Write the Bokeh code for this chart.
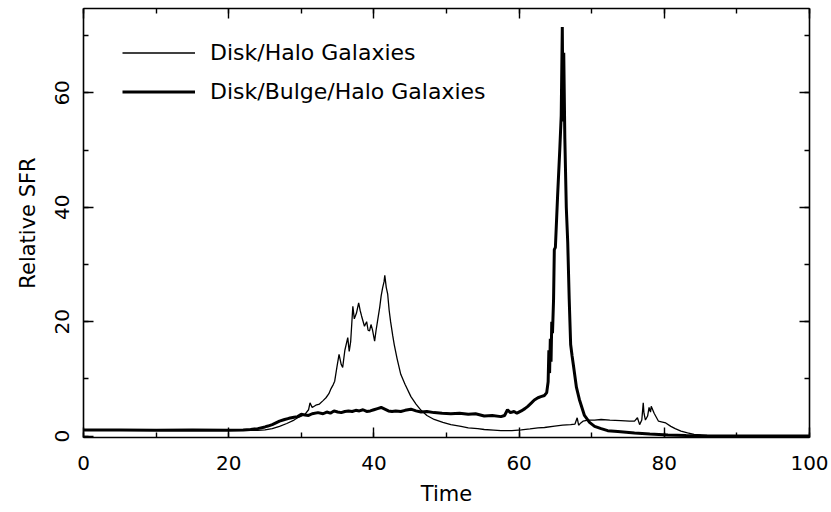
from bokeh.plotting import figure
from bokeh.models import Range1d, LinearAxis, SingleIntervalTicker, Legend, LegendItem, ColumnDataSource
from bokeh.embed import file_html
from bokeh.resources import INLINE

# ---- data ----
time_dh = [0, 5, 10, 15, 20, 22, 23, 24, 25, 26, 27, 28, 29, 29.5, 30, 30.5, 31, 31.2, 31.5, 32,
           32.5, 33, 33.4, 33.8, 34.1, 34.4, 34.6, 34.9, 35.2, 35.5, 35.7, 36, 36.4, 36.6, 36.8,
           37.1, 37.3, 37.6, 37.9, 38.1, 38.3, 38.7, 39, 39.2, 39.4, 39.6, 39.8, 40.1, 40.3, 40.5,
           40.8, 41.0, 41.2, 41.4, 41.5, 41.7, 41.9, 42.1, 42.3, 42.6, 42.8, 43.2, 43.7, 44.3, 45.1,
           45.8, 46.5, 47.3, 48.3, 49.5, 50.6, 52, 53, 54.3, 55.2, 56.5, 57.5, 59, 60.3, 61.5, 62.6,
           63.5, 64.9, 66, 67.1, 67.7, 68.0, 68.2, 68.5, 68.8, 69.5, 70.4, 71.3, 72.5, 74, 75.2,
           75.9, 76.3, 76.6, 76.9, 77.1, 77.2, 77.4, 77.7, 77.9, 78.1, 78.2, 78.4, 78.6, 78.9, 79.2,
           79.6, 80.2, 80.9, 81.5, 82.3, 83.2, 84.1, 85.9, 88, 92, 100]
sfr_dh = [1.0, 1.0, 1.0, 1.0, 1.0, 1.0, 1.0, 1.0, 1.1, 1.3, 1.7, 2.2, 2.8, 3.2, 3.5, 3.8, 4.6, 5.8,
          5.0, 5.4, 5.6, 6.2, 6.7, 7.4, 8.3, 9.0, 9.6, 12.0, 14.3, 12.5, 12.0, 15.0, 17.2, 14.8,
          16.5, 22.7, 20.5, 21.5, 23.3, 22.0, 21.0, 19.2, 20.0, 18.5, 18.4, 19.5, 18.6, 16.6, 18.5,
          20.1, 22.5, 24.5, 25.9, 27.0, 28.1, 26.0, 24.8, 22.0, 20.0, 17.5, 16.0, 13.5, 10.8, 9.0,
          6.9, 5.6, 4.5, 3.6, 2.9, 2.4, 2.0, 1.7, 1.45, 1.3, 1.15, 1.05, 0.95, 0.95, 1.1, 1.25,
          1.45, 1.5, 1.75, 1.9, 2.0, 2.1, 3.2, 1.9, 2.3, 2.6, 2.8, 2.8, 2.9, 2.8, 2.7, 2.6, 2.6,
          3.2, 2.0, 2.8, 5.8, 4.0, 2.8, 3.5, 5.0, 4.2, 5.2, 4.6, 4.0, 3.3, 2.6, 2.5, 2.3, 1.7, 1.3,
          0.87, 0.55, 0.3, 0.12, 0.05, 0.02, 0.0]

time_dbh = [0, 5, 10, 15, 20, 22, 23, 24, 25, 25.4, 26, 26.5, 27, 27.7, 28.3, 29, 29.5, 30, 30.5,
            31, 31.5, 32.3, 33, 33.5, 34, 34.5, 35, 35.5, 36, 36.5, 37, 37.5, 38, 38.5, 39, 39.5,
            40, 40.5, 41, 41.5, 42, 42.5, 43, 43.7, 44.3, 45.1, 45.8, 46.5, 47.3, 48.3, 49.4, 50.6,
            51.8, 53, 54, 55.2, 56.3, 57.5, 58, 58.4, 58.8, 59.3, 59.7, 60.3, 60.8, 61.2, 61.7,
            62.1, 62.6, 63, 63.5, 63.8, 64.0, 64.1, 64.2, 64.3, 64.4, 64.5, 64.6, 64.75, 64.85,
            65.0, 65.3, 65.6, 65.8, 65.95, 66.05, 66.15, 66.3, 66.5, 66.7, 66.9, 67.1, 67.3, 67.5,
            67.9, 68.3, 69, 69.7, 70.4, 71.3, 72.2, 73.6, 75.9, 78, 80.5, 83, 85, 90, 100]
sfr_dbh = [1.05, 1.05, 1.0, 1.05, 1.0, 1.05, 1.15, 1.3, 1.6, 1.75, 2.0, 2.3, 2.6, 2.9, 3.1, 3.3,
           3.4, 3.8, 3.7, 3.6, 3.9, 4.1, 3.9, 4.2, 4.0, 4.4, 4.2, 4.1, 4.3, 4.4, 4.3, 4.5, 4.4,
           4.6, 4.3, 4.4, 4.6, 4.8, 5.0, 4.7, 4.4, 4.3, 4.4, 4.3, 4.5, 4.7, 4.4, 4.2, 4.3, 4.1,
           4.0, 3.9, 4.0, 3.8, 3.9, 3.5, 3.6, 3.4, 3.6, 4.6, 4.1, 4.3, 4.0, 4.4, 4.8, 5.2, 5.8,
           6.3, 6.7, 6.9, 7.1, 7.6, 9.5, 15.0, 11.0, 17.0, 13.0, 20.0, 18.0, 24.0, 32.6, 33.0,
           41.9, 50.0, 56.0, 71.5, 55.0, 67.0, 52.0, 40.0, 33.8, 24.0, 16.0, 14.0, 12.2, 8.5, 6.4,
           3.6, 2.4, 1.7, 1.3, 0.95, 0.8, 0.55, 0.35, 0.17, 0.08, 0.04, 0.02, 0.0]

x_label = "Time"
y_label = "Relative SFR"
labels = ["Disk/Halo Galaxies", "Disk/Bulge/Halo Galaxies"]

FONT = "DejaVu Sans"

p = figure(width=831, height=512, output_backend="svg", toolbar_location=None,
           x_range=Range1d(0, 100), y_range=Range1d(-0.25, 74.75),
           x_axis_location=None, y_axis_location=None,
           min_border_left=83, min_border_right=22, min_border_top=8, min_border_bottom=75)
p.outline_line_color = None
p.background_fill_color = "white"
p.border_fill_color = "white"
p.grid.visible = False
p.xgrid.visible = False
p.ygrid.visible = False


def make_axis(show_labels):
    ax = LinearAxis(ticker=SingleIntervalTicker(interval=20, num_minor_ticks=2))
    ax.axis_line_color = "black"
    ax.axis_line_width = 1.6
    ax.major_tick_line_color = "black"
    ax.major_tick_line_width = 1.4
    ax.minor_tick_line_color = "black"
    ax.minor_tick_line_width = 1.4
    ax.major_tick_in = 10
    ax.major_tick_out = 0
    ax.minor_tick_in = 5
    ax.minor_tick_out = 0
    if show_labels:
        ax.major_label_text_font = FONT
        ax.major_label_text_font_size = "20px"
        ax.major_label_text_color = "black"
        ax.axis_label_text_font = FONT
        ax.axis_label_text_font_size = "21px"
        ax.axis_label_text_font_style = "normal"
        ax.axis_label_text_color = "black"
    else:
        ax.major_label_text_font_size = "1px"
        ax.major_label_text_color = None
        ax.major_label_standoff = 0
    return ax


bottom = make_axis(True)
bottom.axis_label = x_label
bottom.major_label_standoff = 18
bottom.axis_label_standoff = 9
p.add_layout(bottom, "below")

left = make_axis(True)
left.axis_label = y_label
left.major_label_orientation = "parallel"
left.major_label_standoff = 14
left.axis_label_standoff = 13
p.add_layout(left, "left")

p.add_layout(make_axis(False), "above")
p.add_layout(make_axis(False), "right")

src_dh = ColumnDataSource(dict(t=time_dh, s=sfr_dh))
src_dbh = ColumnDataSource(dict(t=time_dbh, s=sfr_dbh))
r1 = p.line("t", "s", source=src_dh, line_color="black", line_width=1.3)
r2 = p.line("t", "s", source=src_dbh, line_color="black", line_width=3)

legend = Legend(items=[LegendItem(label=labels[0], renderers=[r1]),
                       LegendItem(label=labels[1], renderers=[r2])],
                location=(39, 333), glyph_width=73, glyph_height=25, label_height=25,
                label_standoff=15, spacing=14, padding=0, margin=0,
                border_line_color=None, background_fill_alpha=0,
                label_text_font=FONT, label_text_font_size="22px", label_text_color="black")
p.add_layout(legend)

open("out.html", "w").write(file_html(p, INLINE))
